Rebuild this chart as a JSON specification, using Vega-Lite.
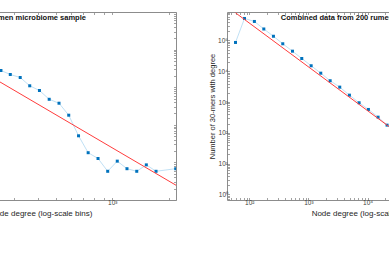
{
  "$schema": "https://vega.github.io/schema/vega-lite/v6.json",
  "padding": {"left": -115, "top": 8, "right": 5, "bottom": 5},
  "background": "white",
  "datasets": {
    "left": [
      {"degree": 178, "count": 9800}, {"degree": 200, "count": 7500}, {"degree": 225, "count": 5200},
      {"degree": 254, "count": 2780}, {"degree": 285, "count": 2180}, {"degree": 322, "count": 1810},
      {"degree": 362, "count": 1090}, {"degree": 408, "count": 817}, {"degree": 460, "count": 477},
      {"degree": 519, "count": 375}, {"degree": 585, "count": 180}, {"degree": 660, "count": 51},
      {"degree": 743, "count": 18.1}, {"degree": 839, "count": 12.7}, {"degree": 945, "count": 5.8},
      {"degree": 1063, "count": 10.8}, {"degree": 1198, "count": 6.8}, {"degree": 1351, "count": 5.8},
      {"degree": 1520, "count": 8.6}, {"degree": 1713, "count": 5.8}, {"degree": 2183, "count": 6.8}
    ],
    "leftfit": [{"degree": 78, "count": 41800}, {"degree": 2190, "count": 2.47}],
    "lefttext": [{"degree": 165, "count": 71000, "label": "Single rumen microbiome sample"}],
    "right": [
      {"degree": 58.5, "count": 86100}, {"degree": 83, "count": 518000}, {"degree": 122, "count": 414000},
      {"degree": 176, "count": 236000}, {"degree": 256, "count": 137000}, {"degree": 368, "count": 78100},
      {"degree": 537, "count": 44900}, {"degree": 771, "count": 26000}, {"degree": 1111, "count": 15100},
      {"degree": 1615, "count": 8670}, {"degree": 2328, "count": 4920}, {"degree": 3381, "count": 3050},
      {"degree": 4931, "count": 1675}, {"degree": 7184, "count": 949}, {"degree": 10320, "count": 575},
      {"degree": 15030, "count": 323}, {"degree": 21330, "count": 178}, {"degree": 30900, "count": 100},
      {"degree": 44800, "count": 56}, {"degree": 65000, "count": 31}, {"degree": 94000, "count": 17},
      {"degree": 136000, "count": 9}
    ],
    "rightfit": [{"degree": 58.5, "count": 790000}, {"degree": 316000, "count": 3.84}],
    "righttext": [{"degree": 340, "count": 550000, "label": "Combined data from 200 rumen samples"}]
  },
  "config": {
    "font": "Liberation Sans",
    "view": {"stroke": "#8c8c8c", "strokeWidth": 1},
    "axis": {
      "domain": false,
      "grid": false,
      "tickColor": "#8c8c8c",
      "tickSize": -2.5,
      "tickWidth": 0.8,
      "labelFontSize": 6.5,
      "labelColor": "#404040",
      "labelPadding": 2,
      "labelOverlap": false,
      "labelFlush": false,
      "titleFontSize": 8,
      "titleFontWeight": "normal",
      "titleColor": "#262626"
    }
  },
  "hconcat": [
    {
      "width": 271,
      "height": 188,
      "resolve": {"axis": {"x": "independent", "y": "independent"}},
      "layer": [
        {
          "data": {"name": "left"},
          "mark": {"type": "line", "color": "#b9ddf3", "strokeWidth": 0.9, "clip": true},
          "encoding": {
            "x": {"field": "degree", "type": "quantitative",
              "scale": {"type": "log", "domain": [78, 2190], "nice": false},
              "axis": {"orient": "bottom", "title": "Node degree (log-scale bins)", "titlePadding": 3,
                "values": [80, 90, 100, 200, 300, 400, 500, 600, 700, 800, 900, 1000, 2000],
                "labelExpr": "abs(log(datum.value)/LN10 - round(log(datum.value)/LN10)) < 0.001 ? '10' + ['⁰','¹','²','³','⁴','⁵','⁶'][round(log(datum.value)/LN10)] : ''"}},
            "y": {"field": "count", "type": "quantitative",
              "scale": {"type": "log", "domain": [1, 100000], "nice": false},
              "axis": {"orient": "left", "title": "Number of 30-mers with degree", "titlePadding": 1, "titleFontSize": 7.5,
                "values": [1,2,3,4,5,6,7,8,9,10,20,30,40,50,60,70,80,90,100,200,300,400,500,600,700,800,900,1000,2000,3000,4000,5000,6000,7000,8000,9000,10000,20000,30000,40000,50000,60000,70000,80000,90000,100000],
                "labelExpr": "abs(log(datum.value)/LN10 - round(log(datum.value)/LN10)) < 0.001 ? '10' + ['⁰','¹','²','³','⁴','⁵','⁶'][round(log(datum.value)/LN10)] : ''"}}
          }
        },
        {
          "data": {"name": "left"},
          "mark": {"type": "point", "shape": "square", "filled": true, "size": 9, "color": "#0072bd", "opacity": 1, "clip": true},
          "encoding": {
            "x": {"field": "degree", "type": "quantitative",
              "axis": {"orient": "top", "labels": false, "title": null,
                "values": [80, 90, 100, 200, 300, 400, 500, 600, 700, 800, 900, 1000, 2000]}},
            "y": {"field": "count", "type": "quantitative",
              "axis": {"orient": "right", "labels": false, "title": null,
                "values": [1,2,3,4,5,6,7,8,9,10,20,30,40,50,60,70,80,90,100,200,300,400,500,600,700,800,900,1000,2000,3000,4000,5000,6000,7000,8000,9000,10000,20000,30000,40000,50000,60000,70000,80000,90000,100000]}}
          }
        },
        {
          "data": {"name": "leftfit"},
          "mark": {"type": "line", "color": "#ff3c3c", "strokeWidth": 1, "clip": true},
          "encoding": {
            "x": {"field": "degree", "type": "quantitative", "axis": null},
            "y": {"field": "count", "type": "quantitative", "axis": null}
          }
        },
        {
          "data": {"name": "lefttext"},
          "mark": {"type": "text", "align": "left", "baseline": "middle", "fontWeight": "bold", "fontSize": 7.5, "color": "#111111"},
          "encoding": {
            "x": {"field": "degree", "type": "quantitative", "axis": null},
            "y": {"field": "count", "type": "quantitative", "axis": null},
            "text": {"field": "label"}
          }
        }
      ]
    },
    {
      "width": 271,
      "height": 188,
      "resolve": {"axis": {"x": "independent", "y": "independent"}},
      "layer": [
        {
          "data": {"name": "right"},
          "mark": {"type": "line", "color": "#b9ddf3", "strokeWidth": 0.9, "clip": true},
          "encoding": {
            "x": {"field": "degree", "type": "quantitative",
              "scale": {"type": "log", "domain": [42, 1600000], "nice": false},
              "axis": {"orient": "bottom", "title": "Node degree (log-scale bins)", "titlePadding": 3,
                "values": [50,60,70,80,90,100,200,300,400,500,600,700,800,900,1000,2000,3000,4000,5000,6000,7000,8000,9000,10000,20000,30000,40000,50000,60000,70000,80000,90000,100000,200000,300000,400000,500000,600000,700000,800000,900000,1000000],
                "labelExpr": "abs(log(datum.value)/LN10 - round(log(datum.value)/LN10)) < 0.001 ? '10' + ['⁰','¹','²','³','⁴','⁵','⁶'][round(log(datum.value)/LN10)] : ''"}},
            "y": {"field": "count", "type": "quantitative",
              "scale": {"type": "log", "domain": [0.66, 840000], "nice": false},
              "axis": {"orient": "left", "title": "Number of 30-mers with degree", "titlePadding": 1, "titleFontSize": 7.5,
                "values": [0.7,0.8,0.9,1,2,3,4,5,6,7,8,9,10,20,30,40,50,60,70,80,90,100,200,300,400,500,600,700,800,900,1000,2000,3000,4000,5000,6000,7000,8000,9000,10000,20000,30000,40000,50000,60000,70000,80000,90000,100000,200000,300000,400000,500000,600000,700000,800000],
                "labelExpr": "abs(log(datum.value)/LN10 - round(log(datum.value)/LN10)) < 0.001 ? '10' + ['⁰','¹','²','³','⁴','⁵','⁶'][round(log(datum.value)/LN10)] : ''"}}
          }
        },
        {
          "data": {"name": "right"},
          "mark": {"type": "point", "shape": "square", "filled": true, "size": 9, "color": "#0072bd", "opacity": 1, "clip": true},
          "encoding": {
            "x": {"field": "degree", "type": "quantitative",
              "axis": {"orient": "top", "labels": false, "title": null,
                "values": [50,60,70,80,90,100,200,300,400,500,600,700,800,900,1000,2000,3000,4000,5000,6000,7000,8000,9000,10000,20000,30000,40000,50000,60000,70000,80000,90000,100000,200000,300000,400000,500000,600000,700000,800000,900000,1000000]}},
            "y": {"field": "count", "type": "quantitative",
              "axis": {"orient": "right", "labels": false, "title": null,
                "values": [0.7,0.8,0.9,1,2,3,4,5,6,7,8,9,10,20,30,40,50,60,70,80,90,100,200,300,400,500,600,700,800,900,1000,2000,3000,4000,5000,6000,7000,8000,9000,10000,20000,30000,40000,50000,60000,70000,80000,90000,100000,200000,300000,400000,500000,600000,700000,800000]}}
          }
        },
        {
          "data": {"name": "rightfit"},
          "mark": {"type": "line", "color": "#ff3c3c", "strokeWidth": 1, "clip": true},
          "encoding": {
            "x": {"field": "degree", "type": "quantitative", "axis": null},
            "y": {"field": "count", "type": "quantitative", "axis": null}
          }
        },
        {
          "data": {"name": "righttext"},
          "mark": {"type": "text", "align": "left", "baseline": "middle", "fontWeight": "bold", "fontSize": 7.5, "color": "#111111"},
          "encoding": {
            "x": {"field": "degree", "type": "quantitative", "axis": null},
            "y": {"field": "count", "type": "quantitative", "axis": null},
            "text": {"field": "label"}
          }
        }
      ]
    }
  ],
  "spacing": 30
}
